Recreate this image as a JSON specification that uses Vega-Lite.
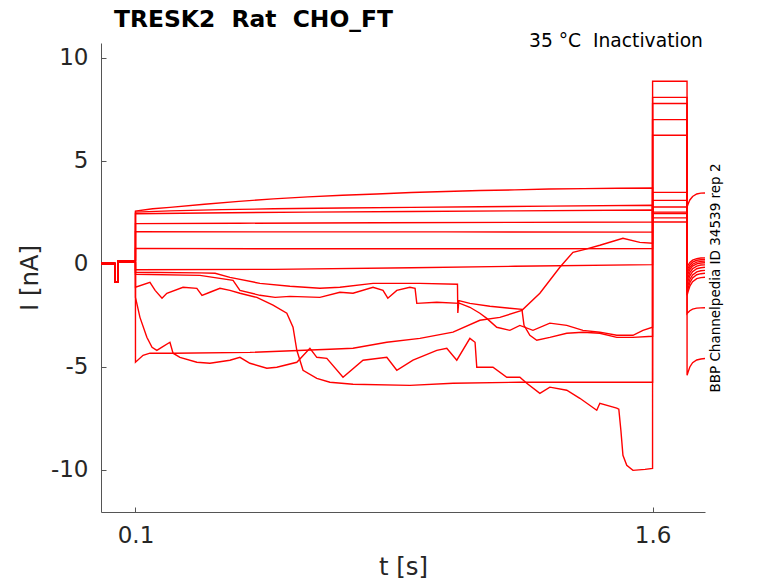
{
  "$schema": "https://vega.github.io/schema/vega-lite/v6.json",
  "width": 604,
  "height": 469,
  "autosize": {"type": "none"},
  "padding": {"left": 101, "top": 43, "right": 73, "bottom": 71},
  "background": "white",
  "config": {
    "view": {"stroke": null},
    "font": "DejaVu Sans",
    "axis": {
      "grid": false,
      "domainColor": "#555555",
      "domainWidth": 1,
      "tickColor": "#555555",
      "tickSize": -5,
      "labelColor": "#262626",
      "titleColor": "#262626",
      "labelFont": "DejaVu Sans",
      "titleFont": "DejaVu Sans",
      "labelFontSize": 23,
      "titleFontSize": 24.4,
      "titleFontWeight": "normal"
    }
  },
  "layer": [
    {
      "data": {
        "values": [
          {"s": "A", "t": 0, "i": -0.02}, {"s": "A", "t": 0.0399, "i": -0.02}, {"s": "A", "t": 0.04, "i": -0.88}, {"s": "A", "t": 0.0489, "i": -0.88}, {"s": "A", "t": 0.049, "i": 0.14}, {"s": "A", "t": 0.0999, "i": 0.14},
          {"s": "A", "t": 0.1, "i": 2.55}, {"s": "A", "t": 0.15, "i": 2.66}, {"s": "A", "t": 0.2, "i": 2.73}, {"s": "A", "t": 0.3, "i": 2.88}, {"s": "A", "t": 0.4, "i": 3.02}, {"s": "A", "t": 0.5, "i": 3.14}, {"s": "A", "t": 0.6, "i": 3.24}, {"s": "A", "t": 0.7, "i": 3.32}, {"s": "A", "t": 0.8, "i": 3.38}, {"s": "A", "t": 0.9, "i": 3.45}, {"s": "A", "t": 1.0, "i": 3.5}, {"s": "A", "t": 1.1, "i": 3.55}, {"s": "A", "t": 1.2, "i": 3.58}, {"s": "A", "t": 1.3, "i": 3.62}, {"s": "A", "t": 1.4, "i": 3.64}, {"s": "A", "t": 1.5, "i": 3.66}, {"s": "A", "t": 1.5999, "i": 3.67},
          {"s": "A", "t": 1.6, "i": 2.02}, {"s": "A", "t": 1.6999, "i": 2.02},
          {"s": "A", "t": 1.7, "i": 2.75}, {"s": "A", "t": 1.703, "i": 2.89}, {"s": "A", "t": 1.708, "i": 3.09}, {"s": "A", "t": 1.716, "i": 3.26}, {"s": "A", "t": 1.728, "i": 3.38}, {"s": "A", "t": 1.74, "i": 3.42}, {"s": "A", "t": 1.752, "i": 3.43},

          {"s": "B", "t": 0, "i": -0.02}, {"s": "B", "t": 0.0399, "i": -0.02}, {"s": "B", "t": 0.04, "i": -0.88}, {"s": "B", "t": 0.0489, "i": -0.88}, {"s": "B", "t": 0.049, "i": 0.14}, {"s": "B", "t": 0.0999, "i": 0.14},
          {"s": "B", "t": 0.1, "i": 2.5}, {"s": "B", "t": 0.2, "i": 2.56}, {"s": "B", "t": 0.35, "i": 2.62}, {"s": "B", "t": 0.5, "i": 2.66}, {"s": "B", "t": 0.7, "i": 2.7}, {"s": "B", "t": 0.9, "i": 2.73}, {"s": "B", "t": 1.1, "i": 2.76}, {"s": "B", "t": 1.3, "i": 2.79}, {"s": "B", "t": 1.5999, "i": 2.83},
          {"s": "B", "t": 1.6, "i": 2.22}, {"s": "B", "t": 1.6999, "i": 2.22},
          {"s": "B", "t": 1.7, "i": -0.17}, {"s": "B", "t": 1.703, "i": -0.08}, {"s": "B", "t": 1.708, "i": 0.06}, {"s": "B", "t": 1.716, "i": 0.17}, {"s": "B", "t": 1.728, "i": 0.24}, {"s": "B", "t": 1.74, "i": 0.27}, {"s": "B", "t": 1.752, "i": 0.28},

          {"s": "C", "t": 0, "i": -0.02}, {"s": "C", "t": 0.0399, "i": -0.02}, {"s": "C", "t": 0.04, "i": -0.88}, {"s": "C", "t": 0.0489, "i": -0.88}, {"s": "C", "t": 0.049, "i": 0.14}, {"s": "C", "t": 0.0999, "i": 0.14},
          {"s": "C", "t": 0.1, "i": 2.42}, {"s": "C", "t": 0.3, "i": 2.46}, {"s": "C", "t": 0.6, "i": 2.5}, {"s": "C", "t": 0.9, "i": 2.53}, {"s": "C", "t": 1.2, "i": 2.56}, {"s": "C", "t": 1.5999, "i": 2.6},
          {"s": "C", "t": 1.6, "i": 2.43}, {"s": "C", "t": 1.6999, "i": 2.43},
          {"s": "C", "t": 1.7, "i": -0.33}, {"s": "C", "t": 1.703, "i": -0.22}, {"s": "C", "t": 1.708, "i": -0.07}, {"s": "C", "t": 1.716, "i": 0.07}, {"s": "C", "t": 1.728, "i": 0.16}, {"s": "C", "t": 1.74, "i": 0.19}, {"s": "C", "t": 1.752, "i": 0.2},

          {"s": "D", "t": 0, "i": -0.02}, {"s": "D", "t": 0.0399, "i": -0.02}, {"s": "D", "t": 0.04, "i": -0.88}, {"s": "D", "t": 0.0489, "i": -0.88}, {"s": "D", "t": 0.049, "i": 0.14}, {"s": "D", "t": 0.0999, "i": 0.14},
          {"s": "D", "t": 0.1, "i": 1.94}, {"s": "D", "t": 0.4, "i": 1.96}, {"s": "D", "t": 0.8, "i": 1.98}, {"s": "D", "t": 1.2, "i": 2.0}, {"s": "D", "t": 1.5999, "i": 2.02},
          {"s": "D", "t": 1.6, "i": 2.5}, {"s": "D", "t": 1.6999, "i": 2.5},
          {"s": "D", "t": 1.7, "i": -0.47}, {"s": "D", "t": 1.703, "i": -0.35}, {"s": "D", "t": 1.708, "i": -0.18}, {"s": "D", "t": 1.716, "i": -0.03}, {"s": "D", "t": 1.728, "i": 0.07}, {"s": "D", "t": 1.74, "i": 0.11}, {"s": "D", "t": 1.752, "i": 0.12},

          {"s": "E", "t": 0, "i": -0.02}, {"s": "E", "t": 0.0399, "i": -0.02}, {"s": "E", "t": 0.04, "i": -0.88}, {"s": "E", "t": 0.0489, "i": -0.88}, {"s": "E", "t": 0.049, "i": 0.14}, {"s": "E", "t": 0.0999, "i": 0.14},
          {"s": "E", "t": 0.1, "i": 1.55}, {"s": "E", "t": 0.5, "i": 1.54}, {"s": "E", "t": 1.0, "i": 1.54}, {"s": "E", "t": 1.5999, "i": 1.53},
          {"s": "E", "t": 1.6, "i": 2.75}, {"s": "E", "t": 1.6999, "i": 2.75},
          {"s": "E", "t": 1.7, "i": -0.62}, {"s": "E", "t": 1.703, "i": -0.49}, {"s": "E", "t": 1.708, "i": -0.29}, {"s": "E", "t": 1.716, "i": -0.12}, {"s": "E", "t": 1.728, "i": -0.01}, {"s": "E", "t": 1.74, "i": 0.03}, {"s": "E", "t": 1.752, "i": 0.04},

          {"s": "F", "t": 0, "i": -0.02}, {"s": "F", "t": 0.0399, "i": -0.02}, {"s": "F", "t": 0.04, "i": -0.88}, {"s": "F", "t": 0.0489, "i": -0.88}, {"s": "F", "t": 0.049, "i": 0.14}, {"s": "F", "t": 0.0999, "i": 0.14},
          {"s": "F", "t": 0.1, "i": 0.74}, {"s": "F", "t": 0.5, "i": 0.72}, {"s": "F", "t": 1.0, "i": 0.72}, {"s": "F", "t": 1.5999, "i": 0.73},
          {"s": "F", "t": 1.6, "i": 3.07}, {"s": "F", "t": 1.6999, "i": 3.07},
          {"s": "F", "t": 1.7, "i": -0.81}, {"s": "F", "t": 1.703, "i": -0.66}, {"s": "F", "t": 1.708, "i": -0.44}, {"s": "F", "t": 1.716, "i": -0.25}, {"s": "F", "t": 1.728, "i": -0.12}, {"s": "F", "t": 1.74, "i": -0.07}, {"s": "F", "t": 1.752, "i": -0.06},

          {"s": "G", "t": 0, "i": 0.02}, {"s": "G", "t": 0.0399, "i": 0.02}, {"s": "G", "t": 0.04, "i": -0.88}, {"s": "G", "t": 0.0489, "i": -0.88}, {"s": "G", "t": 0.049, "i": 0.06}, {"s": "G", "t": 0.0999, "i": 0.06},
          {"s": "G", "t": 0.1, "i": -0.3}, {"s": "G", "t": 0.5, "i": -0.28}, {"s": "G", "t": 0.9, "i": -0.2}, {"s": "G", "t": 1.2, "i": -0.13}, {"s": "G", "t": 1.5999, "i": -0.05},
          {"s": "G", "t": 1.6, "i": 3.46}, {"s": "G", "t": 1.6999, "i": 3.46},
          {"s": "G", "t": 1.7, "i": -1.0}, {"s": "G", "t": 1.703, "i": -0.84}, {"s": "G", "t": 1.708, "i": -0.59}, {"s": "G", "t": 1.716, "i": -0.39}, {"s": "G", "t": 1.728, "i": -0.25}, {"s": "G", "t": 1.74, "i": -0.2}, {"s": "G", "t": 1.752, "i": -0.18},

          {"s": "H", "t": 0, "i": 0.02}, {"s": "H", "t": 0.0399, "i": 0.02}, {"s": "H", "t": 0.04, "i": -0.88}, {"s": "H", "t": 0.0489, "i": -0.88}, {"s": "H", "t": 0.049, "i": 0.06}, {"s": "H", "t": 0.0999, "i": 0.06},
          {"s": "H", "t": 0.1, "i": -0.42}, {"s": "H", "t": 0.287, "i": -0.45}, {"s": "H", "t": 0.331, "i": -0.47}, {"s": "H", "t": 0.374, "i": -0.67}, {"s": "H", "t": 0.461, "i": -0.96}, {"s": "H", "t": 0.548, "i": -1.1}, {"s": "H", "t": 0.635, "i": -1.2}, {"s": "H", "t": 0.693, "i": -1.15}, {"s": "H", "t": 0.789, "i": -0.96}, {"s": "H", "t": 0.925, "i": -0.96}, {"s": "H", "t": 1.034, "i": -1.0}, {"s": "H", "t": 1.035, "i": -2.4}, {"s": "H", "t": 1.038, "i": -1.8}, {"s": "H", "t": 1.07, "i": -1.93}, {"s": "H", "t": 1.128, "i": -2.07}, {"s": "H", "t": 1.186, "i": -2.17}, {"s": "H", "t": 1.221, "i": -2.22}, {"s": "H", "t": 1.227, "i": -3.0}, {"s": "H", "t": 1.244, "i": -3.48}, {"s": "H", "t": 1.264, "i": -3.72}, {"s": "H", "t": 1.302, "i": -3.58}, {"s": "H", "t": 1.351, "i": -3.38}, {"s": "H", "t": 1.398, "i": -3.33}, {"s": "H", "t": 1.447, "i": -3.38}, {"s": "H", "t": 1.496, "i": -3.58}, {"s": "H", "t": 1.543, "i": -3.58}, {"s": "H", "t": 1.5999, "i": -3.53},
          {"s": "H", "t": 1.6, "i": 6.99}, {"s": "H", "t": 1.6999, "i": 6.99},
          {"s": "H", "t": 1.7, "i": -1.39}, {"s": "H", "t": 1.703, "i": -1.21}, {"s": "H", "t": 1.708, "i": -0.93}, {"s": "H", "t": 1.716, "i": -0.7}, {"s": "H", "t": 1.728, "i": -0.54}, {"s": "H", "t": 1.74, "i": -0.49}, {"s": "H", "t": 1.752, "i": -0.47},

          {"s": "I", "t": 0, "i": 0.02}, {"s": "I", "t": 0.0399, "i": 0.02}, {"s": "I", "t": 0.04, "i": -0.88}, {"s": "I", "t": 0.0489, "i": -0.88}, {"s": "I", "t": 0.049, "i": 0.06}, {"s": "I", "t": 0.0999, "i": 0.06},
          {"s": "I", "t": 0.1, "i": -0.52}, {"s": "I", "t": 0.287, "i": -0.57}, {"s": "I", "t": 0.383, "i": -0.81}, {"s": "I", "t": 0.403, "i": -1.3}, {"s": "I", "t": 0.461, "i": -1.54}, {"s": "I", "t": 0.505, "i": -1.64}, {"s": "I", "t": 0.548, "i": -1.59}, {"s": "I", "t": 0.635, "i": -1.64}, {"s": "I", "t": 0.693, "i": -1.39}, {"s": "I", "t": 0.731, "i": -1.44}, {"s": "I", "t": 0.789, "i": -1.15}, {"s": "I", "t": 0.818, "i": -1.3}, {"s": "I", "t": 0.832, "i": -1.68}, {"s": "I", "t": 0.858, "i": -1.3}, {"s": "I", "t": 0.896, "i": -1.15}, {"s": "I", "t": 0.911, "i": -1.2}, {"s": "I", "t": 0.916, "i": -1.93}, {"s": "I", "t": 0.974, "i": -1.88}, {"s": "I", "t": 1.041, "i": -1.93}, {"s": "I", "t": 1.07, "i": -2.12}, {"s": "I", "t": 1.099, "i": -2.41}, {"s": "I", "t": 1.119, "i": -2.66}, {"s": "I", "t": 1.148, "i": -3.09}, {"s": "I", "t": 1.186, "i": -3.24}, {"s": "I", "t": 1.215, "i": -3.0}, {"s": "I", "t": 1.253, "i": -3.24}, {"s": "I", "t": 1.302, "i": -2.89}, {"s": "I", "t": 1.351, "i": -3.0}, {"s": "I", "t": 1.398, "i": -3.24}, {"s": "I", "t": 1.447, "i": -3.33}, {"s": "I", "t": 1.496, "i": -3.48}, {"s": "I", "t": 1.543, "i": -3.48}, {"s": "I", "t": 1.572, "i": -3.24}, {"s": "I", "t": 1.5999, "i": -3.09},
          {"s": "I", "t": 1.6, "i": 7.77}, {"s": "I", "t": 1.6999, "i": 7.77},
          {"s": "I", "t": 1.7, "i": -1.54}, {"s": "I", "t": 1.703, "i": -1.36}, {"s": "I", "t": 1.708, "i": -1.1}, {"s": "I", "t": 1.716, "i": -0.88}, {"s": "I", "t": 1.728, "i": -0.73}, {"s": "I", "t": 1.74, "i": -0.68}, {"s": "I", "t": 1.752, "i": -0.66},

          {"s": "J", "t": 0, "i": 0.02}, {"s": "J", "t": 0.0399, "i": 0.02}, {"s": "J", "t": 0.04, "i": -0.88}, {"s": "J", "t": 0.0489, "i": -0.88}, {"s": "J", "t": 0.049, "i": 0.06}, {"s": "J", "t": 0.0999, "i": 0.06},
          {"s": "J", "t": 0.1, "i": -1.15}, {"s": "J", "t": 0.142, "i": -0.91}, {"s": "J", "t": 0.157, "i": -1.3}, {"s": "J", "t": 0.177, "i": -1.68}, {"s": "J", "t": 0.191, "i": -1.44}, {"s": "J", "t": 0.238, "i": -1.15}, {"s": "J", "t": 0.278, "i": -1.2}, {"s": "J", "t": 0.293, "i": -1.54}, {"s": "J", "t": 0.316, "i": -1.39}, {"s": "J", "t": 0.345, "i": -1.2}, {"s": "J", "t": 0.374, "i": -1.3}, {"s": "J", "t": 0.403, "i": -1.44}, {"s": "J", "t": 0.452, "i": -1.64}, {"s": "J", "t": 0.499, "i": -2.02}, {"s": "J", "t": 0.539, "i": -2.41}, {"s": "J", "t": 0.557, "i": -3.09}, {"s": "J", "t": 0.568, "i": -4.21}, {"s": "J", "t": 0.586, "i": -5.18}, {"s": "J", "t": 0.626, "i": -5.57}, {"s": "J", "t": 0.664, "i": -5.76}, {"s": "J", "t": 0.731, "i": -5.86}, {"s": "J", "t": 0.896, "i": -5.91}, {"s": "J", "t": 1.021, "i": -5.81}, {"s": "J", "t": 1.215, "i": -5.76}, {"s": "J", "t": 1.447, "i": -5.76}, {"s": "J", "t": 1.5999, "i": -5.76},
          {"s": "J", "t": 1.6, "i": 8.07}, {"s": "J", "t": 1.6999, "i": 8.07},
          {"s": "J", "t": 1.7, "i": -2.43}, {"s": "J", "t": 1.703, "i": -2.37}, {"s": "J", "t": 1.708, "i": -2.29}, {"s": "J", "t": 1.716, "i": -2.21}, {"s": "J", "t": 1.728, "i": -2.16}, {"s": "J", "t": 1.74, "i": -2.15}, {"s": "J", "t": 1.752, "i": -2.14},

          {"s": "K", "t": 0, "i": 0.02}, {"s": "K", "t": 0.0399, "i": 0.02}, {"s": "K", "t": 0.04, "i": -0.88}, {"s": "K", "t": 0.0489, "i": -0.88}, {"s": "K", "t": 0.049, "i": 0.06}, {"s": "K", "t": 0.0999, "i": 0.06},
          {"s": "K", "t": 0.1, "i": -1.64}, {"s": "K", "t": 0.113, "i": -2.61}, {"s": "K", "t": 0.133, "i": -3.58}, {"s": "K", "t": 0.148, "i": -4.06}, {"s": "K", "t": 0.162, "i": -4.21}, {"s": "K", "t": 0.177, "i": -4.06}, {"s": "K", "t": 0.2, "i": -3.82}, {"s": "K", "t": 0.209, "i": -4.35}, {"s": "K", "t": 0.229, "i": -4.55}, {"s": "K", "t": 0.278, "i": -4.79}, {"s": "K", "t": 0.316, "i": -4.84}, {"s": "K", "t": 0.374, "i": -4.69}, {"s": "K", "t": 0.403, "i": -4.55}, {"s": "K", "t": 0.432, "i": -4.84}, {"s": "K", "t": 0.481, "i": -5.08}, {"s": "K", "t": 0.51, "i": -5.03}, {"s": "K", "t": 0.568, "i": -4.79}, {"s": "K", "t": 0.606, "i": -4.11}, {"s": "K", "t": 0.626, "i": -4.55}, {"s": "K", "t": 0.655, "i": -4.6}, {"s": "K", "t": 0.702, "i": -5.52}, {"s": "K", "t": 0.76, "i": -4.69}, {"s": "K", "t": 0.829, "i": -4.55}, {"s": "K", "t": 0.858, "i": -5.18}, {"s": "K", "t": 0.905, "i": -4.69}, {"s": "K", "t": 0.974, "i": -4.21}, {"s": "K", "t": 1.003, "i": -4.11}, {"s": "K", "t": 1.032, "i": -4.69}, {"s": "K", "t": 1.07, "i": -3.63}, {"s": "K", "t": 1.085, "i": -3.82}, {"s": "K", "t": 1.09, "i": -5.03}, {"s": "K", "t": 1.137, "i": -5.03}, {"s": "K", "t": 1.177, "i": -5.52}, {"s": "K", "t": 1.215, "i": -5.52}, {"s": "K", "t": 1.235, "i": -5.81}, {"s": "K", "t": 1.273, "i": -6.3}, {"s": "K", "t": 1.302, "i": -6.0}, {"s": "K", "t": 1.351, "i": -6.15}, {"s": "K", "t": 1.389, "i": -6.54}, {"s": "K", "t": 1.438, "i": -7.12}, {"s": "K", "t": 1.447, "i": -6.78}, {"s": "K", "t": 1.496, "i": -7.02}, {"s": "K", "t": 1.502, "i": -7.07}, {"s": "K", "t": 1.508, "i": -8.09}, {"s": "K", "t": 1.514, "i": -9.31}, {"s": "K", "t": 1.525, "i": -9.79}, {"s": "K", "t": 1.543, "i": -10.04}, {"s": "K", "t": 1.578, "i": -9.99}, {"s": "K", "t": 1.5999, "i": -9.94},
          {"s": "K", "t": 1.6, "i": 8.85}, {"s": "K", "t": 1.6999, "i": 8.85},
          {"s": "K", "t": 1.7, "i": -5.42}, {"s": "K", "t": 1.703, "i": -5.26}, {"s": "K", "t": 1.708, "i": -5.02}, {"s": "K", "t": 1.716, "i": -4.81}, {"s": "K", "t": 1.728, "i": -4.68}, {"s": "K", "t": 1.74, "i": -4.63}, {"s": "K", "t": 1.752, "i": -4.61},

          {"s": "L", "t": 0, "i": 0.02}, {"s": "L", "t": 0.0399, "i": 0.02}, {"s": "L", "t": 0.04, "i": -0.88}, {"s": "L", "t": 0.0489, "i": -0.88}, {"s": "L", "t": 0.049, "i": 0.06}, {"s": "L", "t": 0.0999, "i": 0.06},
          {"s": "L", "t": 0.1, "i": -4.79}, {"s": "L", "t": 0.122, "i": -4.45}, {"s": "L", "t": 0.142, "i": -4.35}, {"s": "L", "t": 0.209, "i": -4.35}, {"s": "L", "t": 0.432, "i": -4.31}, {"s": "L", "t": 0.664, "i": -4.16}, {"s": "L", "t": 0.731, "i": -4.11}, {"s": "L", "t": 0.829, "i": -3.82}, {"s": "L", "t": 0.925, "i": -3.63}, {"s": "L", "t": 1.021, "i": -3.33}, {"s": "L", "t": 1.099, "i": -2.75}, {"s": "L", "t": 1.157, "i": -2.61}, {"s": "L", "t": 1.221, "i": -2.27}, {"s": "L", "t": 1.273, "i": -1.44}, {"s": "L", "t": 1.331, "i": -0.18}, {"s": "L", "t": 1.369, "i": 0.55}, {"s": "L", "t": 1.404, "i": 0.69}, {"s": "L", "t": 1.447, "i": 0.89}, {"s": "L", "t": 1.514, "i": 1.23}, {"s": "L", "t": 1.563, "i": 1.03}, {"s": "L", "t": 1.5999, "i": 0.99},
          {"s": "L", "t": 1.6, "i": 6.23}, {"s": "L", "t": 1.6999, "i": 6.23},
          {"s": "L", "t": 1.7, "i": -1.2}, {"s": "L", "t": 1.703, "i": -1.03}, {"s": "L", "t": 1.708, "i": -0.77}, {"s": "L", "t": 1.716, "i": -0.55}, {"s": "L", "t": 1.728, "i": -0.4}, {"s": "L", "t": 1.74, "i": -0.35}, {"s": "L", "t": 1.752, "i": -0.33}
        ]
      },
      "mark": {"type": "line", "color": "#ff0000", "strokeWidth": 1.4, "clip": true},
      "encoding": {
        "x": {
          "field": "t",
          "type": "quantitative",
          "scale": {"domain": [0, 1.752], "nice": false, "zero": false},
          "axis": {"values": [0.1, 1.6], "format": ".1f", "title": "t [s]", "labelPadding": 17, "titlePadding": 8}
        },
        "y": {
          "field": "i",
          "type": "quantitative",
          "scale": {"domain": [-12.06, 10.71], "nice": false, "zero": false},
          "axis": {"values": [-10, -5, 0, 5, 10], "labelExpr": "'' + datum.value", "title": "I [nA]", "labelPadding": 18, "titlePadding": 8}
        },
        "detail": {"field": "s"}
      }
    },
    {
      "data": {"values": [{"note": "35 °C\u00a0\u00a0Inactivation"}]},
      "mark": {"type": "text", "align": "right", "baseline": "alphabetic", "font": "DejaVu Sans", "fontSize": 18.7, "color": "black"},
      "encoding": {
        "x": {"datum": 1.746, "type": "quantitative", "scale": {"domain": [0, 1.752], "nice": false, "zero": false}, "axis": {"values": [0.1, 1.6], "format": ".1f", "title": "t [s]", "labelPadding": 17, "titlePadding": 8}},
        "y": {
          "datum": 10.52,
          "type": "quantitative",
          "scale": {"domain": [-12.06, 10.71], "nice": false, "zero": false},
          "axis": {"orient": "right", "labels": false, "ticks": false, "domain": false, "title": "BBP Channelpedia ID 34539 rep 2", "titleAngle": 270, "titleBaseline": "middle", "titleFontSize": 13.5, "titleColor": "black", "titlePadding": 10}
        },
        "text": {"field": "note"}
      }
    },
    {
      "data": {"values": [{"heading": "TRESK2\u00a0\u00a0Rat\u00a0\u00a0CHO_FT"}]},
      "mark": {"type": "text", "align": "left", "baseline": "alphabetic", "font": "DejaVu Sans", "fontSize": 23.4, "fontWeight": "bold", "color": "black"},
      "encoding": {
        "x": {"datum": 0.0376, "type": "quantitative", "scale": {"domain": [0, 1.752], "nice": false, "zero": false}, "axis": {"values": [0.1, 1.6], "format": ".1f", "title": "t [s]", "labelPadding": 17, "titlePadding": 8}},
        "y": {"datum": 11.49, "type": "quantitative", "scale": {"domain": [-12.06, 10.71], "nice": false, "zero": false}, "axis": null},
        "text": {"field": "heading"}
      }
    }
  ],
  "resolve": {"axis": {"y": "independent"}}
}
